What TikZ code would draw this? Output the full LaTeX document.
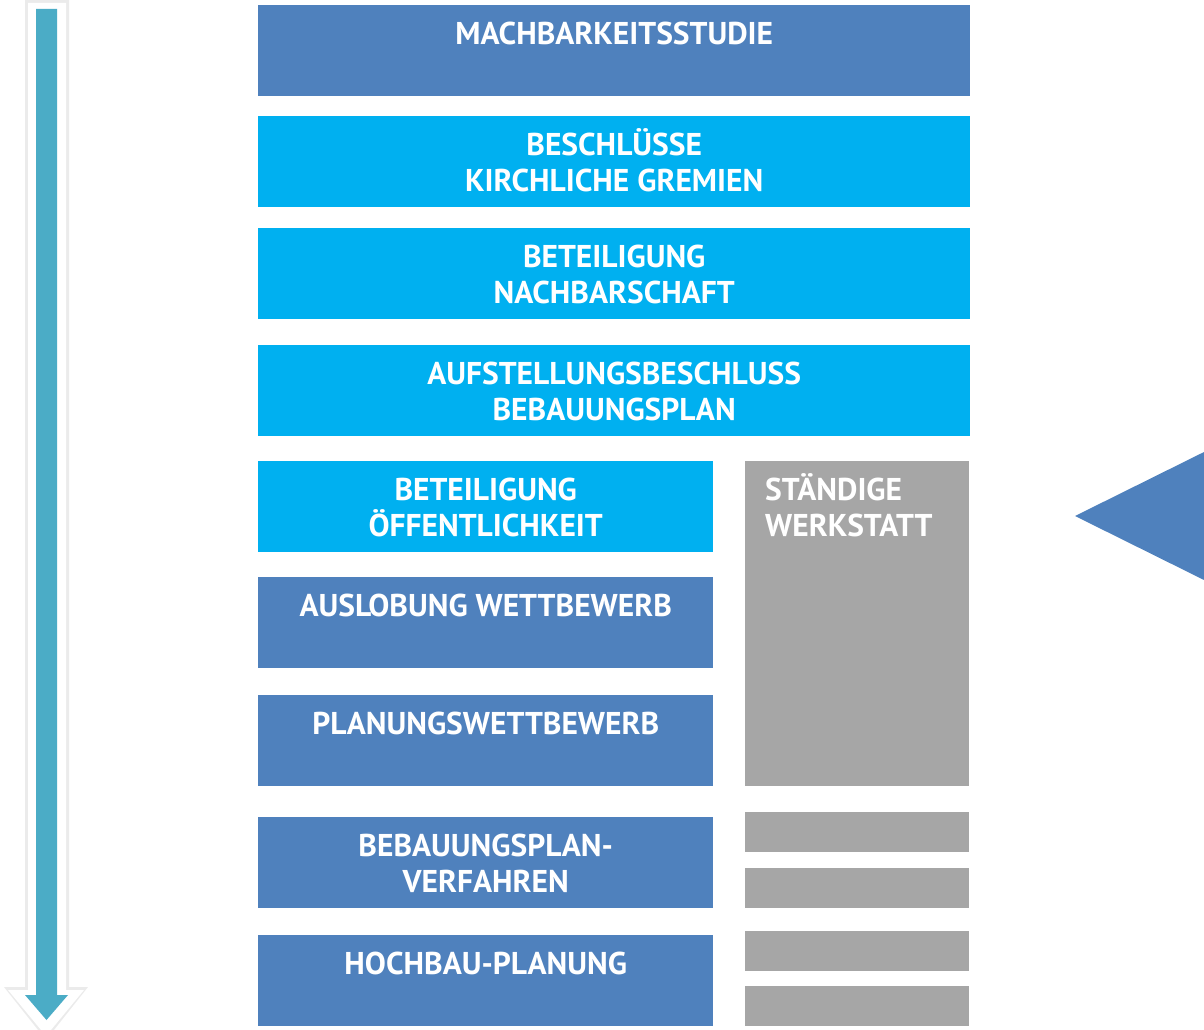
\documentclass[tikz,border=0pt]{standalone}
\usepackage{fontspec}
\setmainfont{PT Sans}

\definecolor{stageblue}{HTML}{4F81BD}
\definecolor{stagecyan}{HTML}{00B0F0}
\definecolor{stagegrey}{HTML}{A6A6A6}
\definecolor{arrowteal}{HTML}{4BACC6}

\newcommand\topline{\rule{0pt}{30pt}}

\tikzset{
  stage/.style={fill=#1, anchor=north west, inner sep=0pt, minimum height=91pt},
  wide/.style={minimum width=712pt},
  narrow/.style={minimum width=455pt},
  side/.style={fill=stagegrey, anchor=north west, inner sep=0pt, minimum width=224pt, minimum height=40pt},
  stagetext/.style={anchor=north, inner sep=0pt, align=center, text=white,
    font=\fontsize{31.5}{36}\selectfont\bfseries, yshift=-9pt},
}

\begin{document}
\begin{tikzpicture}[x=1pt,y=-1pt]
  \useasboundingbox (0,0) rectangle (1204,1030);

  % time arrow
  \fill[black!8] (25,0) -- (69,0) -- (69,987) -- (88,987) -- (46,1040) -- (4,987) -- (25,987) -- cycle;
  \fill[white] (28,3) -- (66,3) -- (66,990) -- (84,990) -- (46,1036) -- (8,990) -- (28,990) -- cycle;
  \fill[arrowteal] (36,9) -- (57,9) -- (57,995) -- (68,995) -- (46.5,1020) -- (25,995) -- (36,995) -- cycle;

  % stages
  \node[stage=stageblue, wide] (machbarkeit) at (258,5) {};
  \node[stage=stagecyan, wide] (beschluesse) at (258,116) {};
  \node[stage=stagecyan, wide] (nachbarschaft) at (258,228) {};
  \node[stage=stagecyan, wide] (aufstellung) at (258,345) {};
  \node[stage=stagecyan, narrow] (oeffentlichkeit) at (258,461) {};
  \node[stage=stageblue, narrow] (auslobung) at (258,577) {};
  \node[stage=stageblue, narrow] (wettbewerb) at (258,695) {};
  \node[stage=stageblue, narrow] (verfahren) at (258,817) {};
  \node[stage=stageblue, narrow] (hochbau) at (258,935) {};

  \node[stagetext] (machbarkeit-t) at (machbarkeit.north) {\topline MACHBARKEITSSTUDIE};
  \node[stagetext] (beschluesse-t) at (beschluesse.north) {\topline BESCHLÜSSE\\KIRCHLICHE GREMIEN};
  \node[stagetext] (nachbarschaft-t) at (nachbarschaft.north) {\topline BETEILIGUNG\\NACHBARSCHAFT};
  \node[stagetext] (aufstellung-t) at (aufstellung.north) {\topline AUFSTELLUNGSBESCHLUSS\\BEBAUUNGSPLAN};
  \node[stagetext] (oeffentlichkeit-t) at (oeffentlichkeit.north) {\topline BETEILIGUNG\\ÖFFENTLICHKEIT};
  \node[stagetext] (auslobung-t) at (auslobung.north) {\topline AUSLOBUNG WETTBEWERB};
  \node[stagetext] (wettbewerb-t) at (wettbewerb.north) {\topline PLANUNGSWETTBEWERB};
  \node[stagetext] (verfahren-t) at (verfahren.north) {\topline BEBAUUNGSPLAN-\\VERFAHREN};
  \node[stagetext] (hochbau-t) at (hochbau.north) {\topline HOCHBAU-PLANUNG};

  % werkstatt
  \node[side, minimum height=325pt] (werkstatt) at (745,461) {};
  \node[stagetext, anchor=north west, align=left, xshift=20pt] (werkstatt-t) at (werkstatt.north west) {\topline STÄNDIGE\\WERKSTATT};
  \node[side] (werkstatt1) at (745,812) {};
  \node[side] (werkstatt2) at (745,868) {};
  \node[side] (werkstatt3) at (745,931) {};
  \node[side] (werkstatt4) at (745,986) {};

  \fill[stageblue] (1075,516) -- (1204,452) -- (1204,580) -- cycle;
\end{tikzpicture}
\end{document}
